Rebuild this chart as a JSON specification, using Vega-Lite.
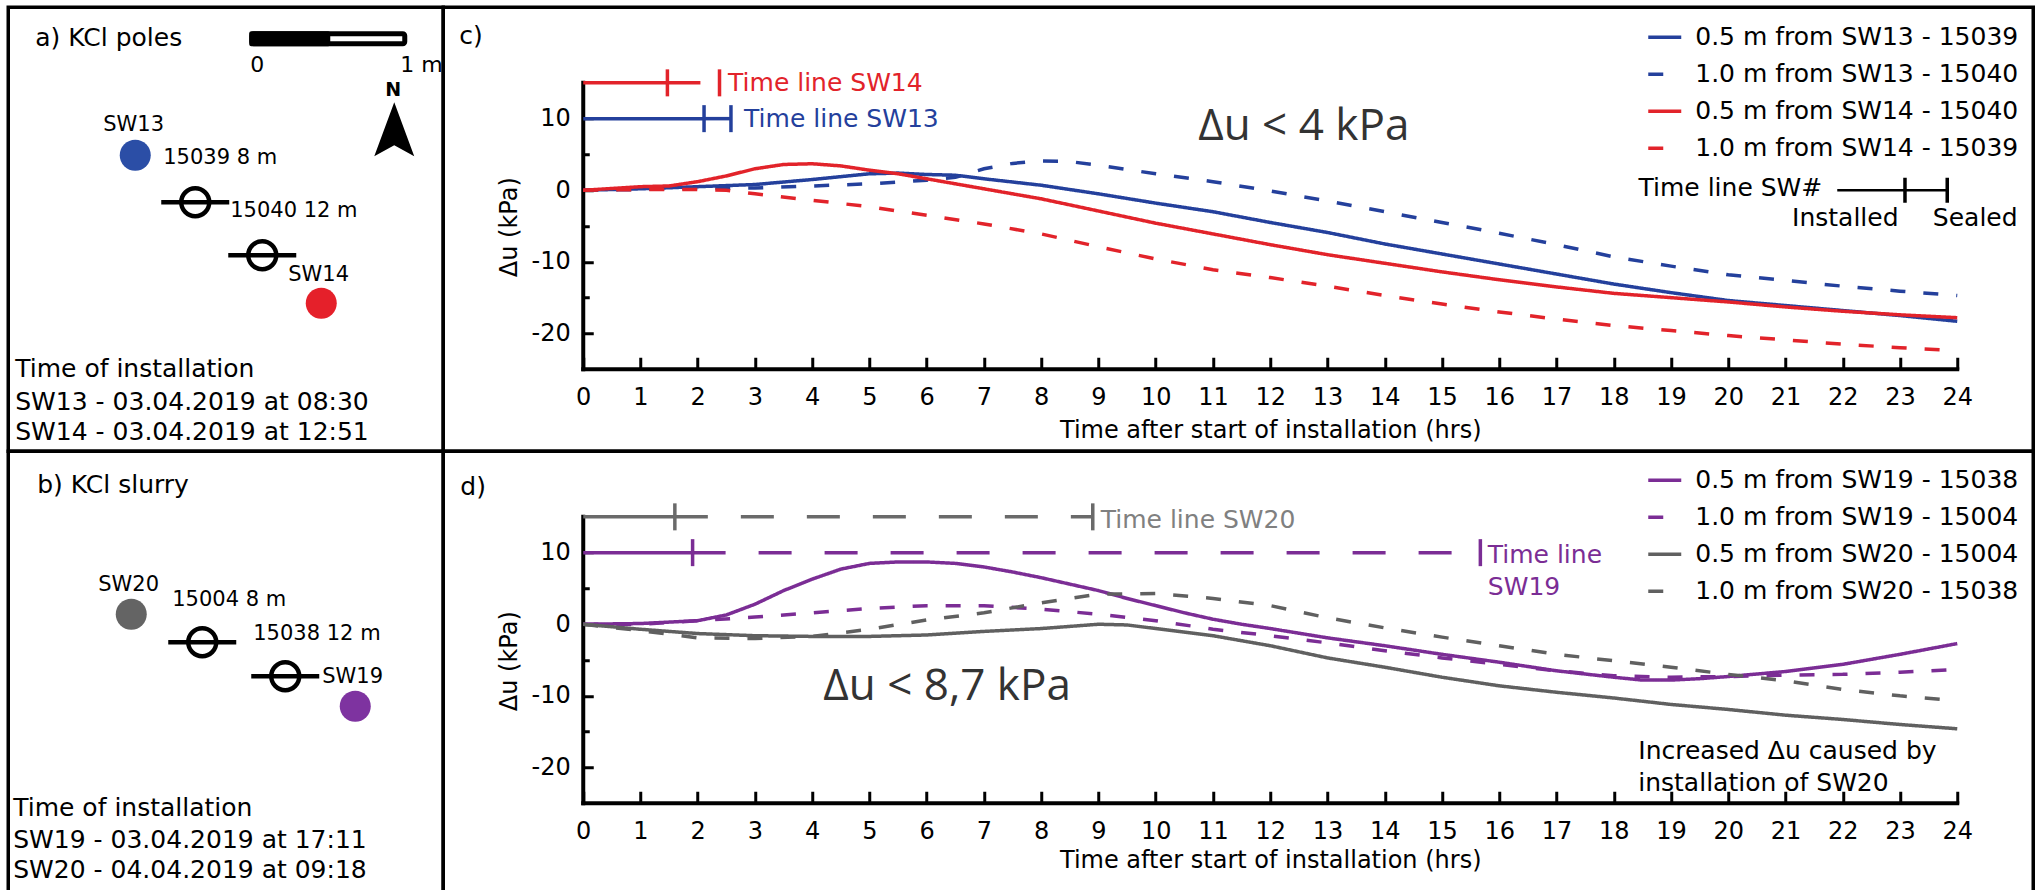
{
"$schema":"https://vega.github.io/schema/vega-lite/v6.json",
"background":"white",
"padding":{"left":6.25,"top":5.25,"right":0,"bottom":0},
"spacing":0,
"bounds":"flush",
"columns":2,
"resolve":{"scale":{"color":"independent","strokeDash":"independent","strokeWidth":"independent"},"legend":{"color":"independent","strokeDash":"independent","strokeWidth":"independent"}},
"config":{"view":{"stroke":"black","strokeWidth":3.5},"font":"DejaVu Sans"},
"datasets":{
"c_series":[
{"series":"0.5 m from SW13 - 15039","t":0,"du":0},{"series":"0.5 m from SW13 - 15039","t":1,"du":0.2},{"series":"0.5 m from SW13 - 15039","t":2,"du":0.5},{"series":"0.5 m from SW13 - 15039","t":3,"du":0.8},{"series":"0.5 m from SW13 - 15039","t":4,"du":1.5},{"series":"0.5 m from SW13 - 15039","t":5,"du":2.3},{"series":"0.5 m from SW13 - 15039","t":5.5,"du":2.4},{"series":"0.5 m from SW13 - 15039","t":6,"du":2.2},{"series":"0.5 m from SW13 - 15039","t":6.5,"du":2.1},{"series":"0.5 m from SW13 - 15039","t":7,"du":1.6},{"series":"0.5 m from SW13 - 15039","t":8,"du":0.7},{"series":"0.5 m from SW13 - 15039","t":9,"du":-0.5},{"series":"0.5 m from SW13 - 15039","t":10,"du":-1.8},{"series":"0.5 m from SW13 - 15039","t":11,"du":-3.0},{"series":"0.5 m from SW13 - 15039","t":12,"du":-4.5},{"series":"0.5 m from SW13 - 15039","t":13,"du":-5.9},{"series":"0.5 m from SW13 - 15039","t":14,"du":-7.5},{"series":"0.5 m from SW13 - 15039","t":15,"du":-8.9},{"series":"0.5 m from SW13 - 15039","t":16,"du":-10.3},{"series":"0.5 m from SW13 - 15039","t":17,"du":-11.7},{"series":"0.5 m from SW13 - 15039","t":18,"du":-13.1},{"series":"0.5 m from SW13 - 15039","t":19,"du":-14.3},{"series":"0.5 m from SW13 - 15039","t":20,"du":-15.4},{"series":"0.5 m from SW13 - 15039","t":21,"du":-16.1},{"series":"0.5 m from SW13 - 15039","t":22,"du":-16.8},{"series":"0.5 m from SW13 - 15039","t":23,"du":-17.5},{"series":"0.5 m from SW13 - 15039","t":24,"du":-18.3},
{"series":"1.0 m from SW13 - 15040","t":0,"du":0},{"series":"1.0 m from SW13 - 15040","t":1,"du":0.1},{"series":"1.0 m from SW13 - 15040","t":2,"du":0.3},{"series":"1.0 m from SW13 - 15040","t":3,"du":0.3},{"series":"1.0 m from SW13 - 15040","t":4,"du":0.6},{"series":"1.0 m from SW13 - 15040","t":5,"du":0.9},{"series":"1.0 m from SW13 - 15040","t":6,"du":1.4},{"series":"1.0 m from SW13 - 15040","t":6.5,"du":1.8},{"series":"1.0 m from SW13 - 15040","t":7,"du":3.0},{"series":"1.0 m from SW13 - 15040","t":7.5,"du":3.75},{"series":"1.0 m from SW13 - 15040","t":8,"du":4.1},{"series":"1.0 m from SW13 - 15040","t":8.5,"du":4.0},{"series":"1.0 m from SW13 - 15040","t":9,"du":3.5},{"series":"1.0 m from SW13 - 15040","t":10,"du":2.3},{"series":"1.0 m from SW13 - 15040","t":11,"du":1.2},{"series":"1.0 m from SW13 - 15040","t":12,"du":-0.1},{"series":"1.0 m from SW13 - 15040","t":13,"du":-1.5},{"series":"1.0 m from SW13 - 15040","t":14,"du":-3.0},{"series":"1.0 m from SW13 - 15040","t":15,"du":-4.5},{"series":"1.0 m from SW13 - 15040","t":16,"du":-6.0},{"series":"1.0 m from SW13 - 15040","t":17,"du":-7.6},{"series":"1.0 m from SW13 - 15040","t":18,"du":-9.3},{"series":"1.0 m from SW13 - 15040","t":19,"du":-10.6},{"series":"1.0 m from SW13 - 15040","t":20,"du":-11.8},{"series":"1.0 m from SW13 - 15040","t":21,"du":-12.6},{"series":"1.0 m from SW13 - 15040","t":22,"du":-13.4},{"series":"1.0 m from SW13 - 15040","t":23,"du":-14.1},{"series":"1.0 m from SW13 - 15040","t":24,"du":-14.7},
{"series":"0.5 m from SW14 - 15040","t":0,"du":0},{"series":"0.5 m from SW14 - 15040","t":1,"du":0.5},{"series":"0.5 m from SW14 - 15040","t":1.5,"du":0.6},{"series":"0.5 m from SW14 - 15040","t":2,"du":1.2},{"series":"0.5 m from SW14 - 15040","t":2.5,"du":2.0},{"series":"0.5 m from SW14 - 15040","t":3,"du":3.0},{"series":"0.5 m from SW14 - 15040","t":3.5,"du":3.6},{"series":"0.5 m from SW14 - 15040","t":4,"du":3.7},{"series":"0.5 m from SW14 - 15040","t":4.5,"du":3.4},{"series":"0.5 m from SW14 - 15040","t":5,"du":2.8},{"series":"0.5 m from SW14 - 15040","t":5.5,"du":2.3},{"series":"0.5 m from SW14 - 15040","t":6,"du":1.6},{"series":"0.5 m from SW14 - 15040","t":7,"du":0.2},{"series":"0.5 m from SW14 - 15040","t":8,"du":-1.2},{"series":"0.5 m from SW14 - 15040","t":9,"du":-2.9},{"series":"0.5 m from SW14 - 15040","t":10,"du":-4.6},{"series":"0.5 m from SW14 - 15040","t":11,"du":-6.1},{"series":"0.5 m from SW14 - 15040","t":12,"du":-7.6},{"series":"0.5 m from SW14 - 15040","t":13,"du":-9.0},{"series":"0.5 m from SW14 - 15040","t":14,"du":-10.2},{"series":"0.5 m from SW14 - 15040","t":15,"du":-11.4},{"series":"0.5 m from SW14 - 15040","t":16,"du":-12.5},{"series":"0.5 m from SW14 - 15040","t":17,"du":-13.5},{"series":"0.5 m from SW14 - 15040","t":18,"du":-14.4},{"series":"0.5 m from SW14 - 15040","t":19,"du":-15.0},{"series":"0.5 m from SW14 - 15040","t":20,"du":-15.6},{"series":"0.5 m from SW14 - 15040","t":21,"du":-16.3},{"series":"0.5 m from SW14 - 15040","t":22,"du":-16.9},{"series":"0.5 m from SW14 - 15040","t":23,"du":-17.4},{"series":"0.5 m from SW14 - 15040","t":24,"du":-17.8},
{"series":"1.0 m from SW14 - 15039","t":0,"du":0},{"series":"1.0 m from SW14 - 15039","t":1,"du":0.1},{"series":"1.0 m from SW14 - 15039","t":2,"du":0.1},{"series":"1.0 m from SW14 - 15039","t":2.5,"du":0},{"series":"1.0 m from SW14 - 15039","t":3,"du":-0.5},{"series":"1.0 m from SW14 - 15039","t":4,"du":-1.4},{"series":"1.0 m from SW14 - 15039","t":5,"du":-2.3},{"series":"1.0 m from SW14 - 15039","t":6,"du":-3.5},{"series":"1.0 m from SW14 - 15039","t":7,"du":-4.7},{"series":"1.0 m from SW14 - 15039","t":8,"du":-6.1},{"series":"1.0 m from SW14 - 15039","t":9,"du":-7.9},{"series":"1.0 m from SW14 - 15039","t":10,"du":-9.6},{"series":"1.0 m from SW14 - 15039","t":11,"du":-11.1},{"series":"1.0 m from SW14 - 15039","t":12,"du":-12.2},{"series":"1.0 m from SW14 - 15039","t":13,"du":-13.4},{"series":"1.0 m from SW14 - 15039","t":14,"du":-14.7},{"series":"1.0 m from SW14 - 15039","t":15,"du":-15.9},{"series":"1.0 m from SW14 - 15039","t":16,"du":-17.0},{"series":"1.0 m from SW14 - 15039","t":17,"du":-18.0},{"series":"1.0 m from SW14 - 15039","t":18,"du":-18.9},{"series":"1.0 m from SW14 - 15039","t":19,"du":-19.6},{"series":"1.0 m from SW14 - 15039","t":20,"du":-20.3},{"series":"1.0 m from SW14 - 15039","t":21,"du":-20.9},{"series":"1.0 m from SW14 - 15039","t":22,"du":-21.5},{"series":"1.0 m from SW14 - 15039","t":23,"du":-22.0},{"series":"1.0 m from SW14 - 15039","t":24,"du":-22.4}
],
"d_series":[
{"series":"0.5 m from SW19 - 15038","t":0,"du":0},{"series":"0.5 m from SW19 - 15038","t":1,"du":0.1},{"series":"0.5 m from SW19 - 15038","t":2,"du":0.5},{"series":"0.5 m from SW19 - 15038","t":2.5,"du":1.3},{"series":"0.5 m from SW19 - 15038","t":3,"du":2.8},{"series":"0.5 m from SW19 - 15038","t":3.5,"du":4.7},{"series":"0.5 m from SW19 - 15038","t":4,"du":6.3},{"series":"0.5 m from SW19 - 15038","t":4.5,"du":7.7},{"series":"0.5 m from SW19 - 15038","t":5,"du":8.5},{"series":"0.5 m from SW19 - 15038","t":5.5,"du":8.7},{"series":"0.5 m from SW19 - 15038","t":6,"du":8.7},{"series":"0.5 m from SW19 - 15038","t":6.5,"du":8.5},{"series":"0.5 m from SW19 - 15038","t":7,"du":8.0},{"series":"0.5 m from SW19 - 15038","t":7.5,"du":7.3},{"series":"0.5 m from SW19 - 15038","t":8,"du":6.5},{"series":"0.5 m from SW19 - 15038","t":8.5,"du":5.6},{"series":"0.5 m from SW19 - 15038","t":9,"du":4.7},{"series":"0.5 m from SW19 - 15038","t":9.5,"du":3.6},{"series":"0.5 m from SW19 - 15038","t":10,"du":2.6},{"series":"0.5 m from SW19 - 15038","t":10.5,"du":1.6},{"series":"0.5 m from SW19 - 15038","t":11,"du":0.7},{"series":"0.5 m from SW19 - 15038","t":11.5,"du":0},{"series":"0.5 m from SW19 - 15038","t":12,"du":-0.6},{"series":"0.5 m from SW19 - 15038","t":13,"du":-1.9},{"series":"0.5 m from SW19 - 15038","t":14,"du":-3.0},{"series":"0.5 m from SW19 - 15038","t":15,"du":-4.2},{"series":"0.5 m from SW19 - 15038","t":16,"du":-5.3},{"series":"0.5 m from SW19 - 15038","t":17,"du":-6.5},{"series":"0.5 m from SW19 - 15038","t":18,"du":-7.4},{"series":"0.5 m from SW19 - 15038","t":18.5,"du":-7.8},{"series":"0.5 m from SW19 - 15038","t":19,"du":-7.8},{"series":"0.5 m from SW19 - 15038","t":19.5,"du":-7.6},{"series":"0.5 m from SW19 - 15038","t":20,"du":-7.3},{"series":"0.5 m from SW19 - 15038","t":21,"du":-6.6},{"series":"0.5 m from SW19 - 15038","t":22,"du":-5.6},{"series":"0.5 m from SW19 - 15038","t":23,"du":-4.2},{"series":"0.5 m from SW19 - 15038","t":24,"du":-2.7},
{"series":"1.0 m from SW19 - 15004","t":0,"du":0},{"series":"1.0 m from SW19 - 15004","t":1,"du":0},{"series":"1.0 m from SW19 - 15004","t":2,"du":0.5},{"series":"1.0 m from SW19 - 15004","t":3,"du":1.0},{"series":"1.0 m from SW19 - 15004","t":4,"du":1.6},{"series":"1.0 m from SW19 - 15004","t":5,"du":2.2},{"series":"1.0 m from SW19 - 15004","t":6,"du":2.6},{"series":"1.0 m from SW19 - 15004","t":7,"du":2.6},{"series":"1.0 m from SW19 - 15004","t":8,"du":2.1},{"series":"1.0 m from SW19 - 15004","t":9,"du":1.4},{"series":"1.0 m from SW19 - 15004","t":10,"du":0.5},{"series":"1.0 m from SW19 - 15004","t":11,"du":-0.7},{"series":"1.0 m from SW19 - 15004","t":12,"du":-1.6},{"series":"1.0 m from SW19 - 15004","t":13,"du":-2.6},{"series":"1.0 m from SW19 - 15004","t":14,"du":-3.7},{"series":"1.0 m from SW19 - 15004","t":15,"du":-4.7},{"series":"1.0 m from SW19 - 15004","t":16,"du":-5.6},{"series":"1.0 m from SW19 - 15004","t":17,"du":-6.5},{"series":"1.0 m from SW19 - 15004","t":18,"du":-7.2},{"series":"1.0 m from SW19 - 15004","t":19,"du":-7.4},{"series":"1.0 m from SW19 - 15004","t":20,"du":-7.3},{"series":"1.0 m from SW19 - 15004","t":21,"du":-7.1},{"series":"1.0 m from SW19 - 15004","t":22,"du":-7.0},{"series":"1.0 m from SW19 - 15004","t":23,"du":-6.7},{"series":"1.0 m from SW19 - 15004","t":24,"du":-6.3},
{"series":"0.5 m from SW20 - 15004","t":0,"du":0},{"series":"0.5 m from SW20 - 15004","t":1,"du":-0.7},{"series":"0.5 m from SW20 - 15004","t":2,"du":-1.3},{"series":"0.5 m from SW20 - 15004","t":3,"du":-1.6},{"series":"0.5 m from SW20 - 15004","t":4,"du":-1.7},{"series":"0.5 m from SW20 - 15004","t":5,"du":-1.7},{"series":"0.5 m from SW20 - 15004","t":6,"du":-1.5},{"series":"0.5 m from SW20 - 15004","t":7,"du":-1.0},{"series":"0.5 m from SW20 - 15004","t":8,"du":-0.6},{"series":"0.5 m from SW20 - 15004","t":9,"du":0},{"series":"0.5 m from SW20 - 15004","t":9.5,"du":-0.1},{"series":"0.5 m from SW20 - 15004","t":10,"du":-0.6},{"series":"0.5 m from SW20 - 15004","t":11,"du":-1.6},{"series":"0.5 m from SW20 - 15004","t":12,"du":-3.0},{"series":"0.5 m from SW20 - 15004","t":13,"du":-4.7},{"series":"0.5 m from SW20 - 15004","t":14,"du":-6.0},{"series":"0.5 m from SW20 - 15004","t":15,"du":-7.4},{"series":"0.5 m from SW20 - 15004","t":16,"du":-8.6},{"series":"0.5 m from SW20 - 15004","t":17,"du":-9.5},{"series":"0.5 m from SW20 - 15004","t":18,"du":-10.3},{"series":"0.5 m from SW20 - 15004","t":19,"du":-11.2},{"series":"0.5 m from SW20 - 15004","t":20,"du":-11.9},{"series":"0.5 m from SW20 - 15004","t":21,"du":-12.7},{"series":"0.5 m from SW20 - 15004","t":22,"du":-13.3},{"series":"0.5 m from SW20 - 15004","t":23,"du":-14.0},{"series":"0.5 m from SW20 - 15004","t":24,"du":-14.6},
{"series":"1.0 m from SW20 - 15038","t":0,"du":0},{"series":"1.0 m from SW20 - 15038","t":1,"du":-0.9},{"series":"1.0 m from SW20 - 15038","t":2,"du":-1.9},{"series":"1.0 m from SW20 - 15038","t":3,"du":-2.0},{"series":"1.0 m from SW20 - 15038","t":4,"du":-1.7},{"series":"1.0 m from SW20 - 15038","t":5,"du":-0.7},{"series":"1.0 m from SW20 - 15038","t":6,"du":0.6},{"series":"1.0 m from SW20 - 15038","t":7,"du":1.6},{"series":"1.0 m from SW20 - 15038","t":8,"du":3.0},{"series":"1.0 m from SW20 - 15038","t":9,"du":4.2},{"series":"1.0 m from SW20 - 15038","t":10,"du":4.3},{"series":"1.0 m from SW20 - 15038","t":11,"du":3.6},{"series":"1.0 m from SW20 - 15038","t":12,"du":2.6},{"series":"1.0 m from SW20 - 15038","t":13,"du":0.9},{"series":"1.0 m from SW20 - 15038","t":14,"du":-0.5},{"series":"1.0 m from SW20 - 15038","t":15,"du":-1.8},{"series":"1.0 m from SW20 - 15038","t":16,"du":-3.0},{"series":"1.0 m from SW20 - 15038","t":17,"du":-4.2},{"series":"1.0 m from SW20 - 15038","t":18,"du":-5.1},{"series":"1.0 m from SW20 - 15038","t":19,"du":-6.0},{"series":"1.0 m from SW20 - 15038","t":20,"du":-7.0},{"series":"1.0 m from SW20 - 15038","t":21,"du":-7.9},{"series":"1.0 m from SW20 - 15038","t":22,"du":-9.1},{"series":"1.0 m from SW20 - 15038","t":23,"du":-10.0},{"series":"1.0 m from SW20 - 15038","t":24,"du":-10.7}
],
"c_timeline":[{"sw":"SW14","start":0,"installed":1.47,"sealed":2.38,"level":15},{"sw":"SW13","start":0,"installed":2.11,"sealed":2.58,"level":10}],
"d_timeline":[{"sw":"SW20","start":0,"installed":1.6,"sealed":8.9,"level":15},{"sw":"SW19","start":0,"installed":1.91,"sealed":15.67,"level":10}],
"c_tl_labels":[{"sw":"SW14","text":"Time line SW14","t":2.53,"du":15},{"sw":"SW13","text":"Time line SW13","t":2.81,"du":10}],
"d_tl_labels":[{"sw":"SW20","text":"Time line SW20","t":9.04,"du":14.5},{"sw":"SW19","text":"Time line","t":15.8,"du":9.64},{"sw":"SW19","text":"SW19","t":15.8,"du":5.17}],
"c_tl_legend":[{"start":21.904,"installed":23.087,"sealed":23.825,"level":0}],
"c_notes":[{"text":"c)","t":-2.166,"du":20.39,"kind":"panel"},{"text":"Δu < 4 kPa","t":10.742,"du":6.98,"kind":"big"},{"text":"Time line SW#","t":21.642,"du":0.3,"kind":"right"},{"text":"Installed","t":22.044,"du":-3.9,"kind":"center"},{"text":"Sealed","t":24.314,"du":-3.9,"kind":"center"}],
"d_notes":[{"text":"d)","t":-2.148,"du":18.02,"kind":"panel"},{"text":"Δu < 8,7 kPa","t":4.192,"du":-10.61,"kind":"big"},{"text":"Increased Δu caused by","t":18.428,"du":-18.85,"kind":"panel"},{"text":"installation of SW20","t":18.428,"du":-23.32,"kind":"panel"}],
"a_points":[{"name":"SW13","x":-0.7215,"y":-0.9367},{"name":"SW14","x":0.4557,"y":-1.8734}],
"a_piezo":[{"id":"15039","x":-0.3418,"y":-1.2342},{"id":"15040","x":0.0823,"y":-1.5696}],
"a_labels":[{"text":"a) KCl poles","x":-1.3544,"y":-0.195,"kind":"large"},{"text":"SW13","x":-0.924,"y":-0.7468,"kind":"small"},{"text":"15039 8 m","x":-0.5443,"y":-0.9557,"kind":"small"},{"text":"15040 12 m","x":-0.1203,"y":-1.2911,"kind":"small"},{"text":"SW14","x":0.2468,"y":-1.6962,"kind":"small"},{"text":"Time of installation","x":-1.481,"y":-2.2911,"kind":"large"},{"text":"SW13 - 03.04.2019 at 08:30","x":-1.481,"y":-2.5,"kind":"large"},{"text":"SW14 - 03.04.2019 at 12:51","x":-1.481,"y":-2.6899,"kind":"large"},{"text":"0","x":0.0506,"y":-0.3671,"kind":"scale_c"},{"text":"1 m","x":0.9557,"y":-0.3671,"kind":"scale_l"},{"text":"N","x":0.9114,"y":-0.5253,"kind":"north"}],
"b_points":[{"name":"SW20","x":-0.7468,"y":-1.0316},{"name":"SW19","x":0.6709,"y":-1.6139}],
"b_piezo":[{"id":"15004","x":-0.2975,"y":-1.2089},{"id":"15038","x":0.2278,"y":-1.4241}],
"b_labels":[{"text":"b) KCl slurry","x":-1.3418,"y":-0.2152,"kind":"large"},{"text":"SW20","x":-0.9557,"y":-0.8481,"kind":"small"},{"text":"15004 8 m","x":-0.4873,"y":-0.943,"kind":"small"},{"text":"15038 12 m","x":0.0253,"y":-1.1582,"kind":"small"},{"text":"SW19","x":0.462,"y":-1.4304,"kind":"small"},{"text":"Time of installation","x":-1.4937,"y":-2.2595,"kind":"large"},{"text":"SW19 - 03.04.2019 at 17:11","x":-1.4937,"y":-2.462,"kind":"large"},{"text":"SW20 - 04.04.2019 at 09:18","x":-1.4937,"y":-2.6519,"kind":"large"}]
},
"concat":[
{"width":435,"height":444,"layer":[
{"data":{"values":[{"x0":0.0158,"x1":0.9842,"y0":-0.1677,"y1":-0.231}]},"mark":{"type":"rect","fill":"white","stroke":"black","strokeWidth":5,"cornerRadius":2},"encoding":{"x":{"field":"x0","type":"quantitative","scale":{"domain":[-1.5253,1.2278],"nice":false,"zero":false},"axis":null},"x2":{"field":"x1"},"y":{"field":"y0","type":"quantitative","scale":{"domain":[-2.8101,0],"nice":false,"zero":false},"axis":null},"y2":{"field":"y1"}}},
{"data":{"values":[{"x0":0,"x1":0.5127,"y0":-0.1519,"y1":-0.2468}]},"mark":{"type":"rect","fill":"black","cornerRadius":2},"encoding":{"x":{"field":"x0","type":"quantitative","axis":null},"x2":{"field":"x1"},"y":{"field":"y0","type":"quantitative","axis":null},"y2":{"field":"y1"}}},
{"data":{"name":"a_piezo"},"mark":{"type":"point","shape":"M-1,0L1,0M-0.412,0A0.412,0.412,0,1,1,0.412,0A0.412,0.412,0,1,1,-0.412,0Z","size":4624,"filled":false,"stroke":"black","strokeWidth":4.5,"opacity":1},"encoding":{"x":{"field":"x","type":"quantitative","axis":null},"y":{"field":"y","type":"quantitative","axis":null}}},
{"data":{"name":"a_points"},"mark":{"type":"point","shape":"circle","size":962,"filled":true,"opacity":1},"encoding":{"x":{"field":"x","type":"quantitative","axis":null},"y":{"field":"y","type":"quantitative","axis":null},"color":{"field":"name","type":"nominal","scale":{"domain":["SW13","SW14"],"range":["#2b4ea6","#e5202a"]},"legend":null}}},
{"data":{"values":[{"x":0.9177,"y":-0.7722}]},"mark":{"type":"point","shape":"M0,-1L0.74,1L0,0.59L-0.74,1Z","size":2916,"filled":true,"color":"black","opacity":1},"encoding":{"x":{"field":"x","type":"quantitative","axis":null},"y":{"field":"y","type":"quantitative","axis":null}}},
{"data":{"name":"a_labels"},"transform":[{"filter":"datum.kind === 'large'"}],"mark":{"type":"text","font":"DejaVu Sans","fontSize":25,"align":"left","baseline":"middle","color":"black"},"encoding":{"x":{"field":"x","type":"quantitative","axis":null},"y":{"field":"y","type":"quantitative","axis":null},"text":{"field":"text"}}},
{"data":{"name":"a_labels"},"transform":[{"filter":"datum.kind === 'small'"}],"mark":{"type":"text","font":"DejaVu Sans","fontSize":21,"align":"left","baseline":"middle","color":"black"},"encoding":{"x":{"field":"x","type":"quantitative","axis":null},"y":{"field":"y","type":"quantitative","axis":null},"text":{"field":"text"}}},
{"data":{"name":"a_labels"},"transform":[{"filter":"datum.kind === 'scale_c'"}],"mark":{"type":"text","font":"DejaVu Sans","fontSize":22,"align":"center","baseline":"middle","color":"black"},"encoding":{"x":{"field":"x","type":"quantitative","axis":null},"y":{"field":"y","type":"quantitative","axis":null},"text":{"field":"text"}}},
{"data":{"name":"a_labels"},"transform":[{"filter":"datum.kind === 'scale_l'"}],"mark":{"type":"text","font":"DejaVu Sans","fontSize":22,"align":"left","baseline":"middle","color":"black"},"encoding":{"x":{"field":"x","type":"quantitative","axis":null},"y":{"field":"y","type":"quantitative","axis":null},"text":{"field":"text"}}},
{"data":{"name":"a_labels"},"transform":[{"filter":"datum.kind === 'north'"}],"mark":{"type":"text","font":"DejaVu Sans","fontSize":19,"fontWeight":"bold","align":"center","baseline":"middle","color":"black"},"encoding":{"x":{"field":"x","type":"quantitative","axis":null},"y":{"field":"y","type":"quantitative","axis":null},"text":{"field":"text"}}}
]},
{"width":1590,"height":444,"layer":[
{"data":{"values":[{}]},"mark":{"type":"rule","color":"black","strokeWidth":4,"strokeCap":"square"},"encoding":{"x":{"datum":0,"type":"quantitative"},"x2":{"datum":24},"y":{"datum":-25,"type":"quantitative"}}},
{"data":{"values":[{}]},"mark":{"type":"rule","color":"black","strokeWidth":4,"strokeCap":"square"},"encoding":{"x":{"datum":0,"type":"quantitative"},"y":{"datum":-25,"type":"quantitative"},"y2":{"datum":15}}},
{"data":{"name":"c_series"},"mark":{"type":"line","strokeWidth":3.5},"encoding":{
"x":{"field":"t","type":"quantitative","scale":{"domain":[-2.4454,25.3275],"nice":false,"zero":false},"axis":{"values":[0,0.5,1,1.5,2,2.5,3,3.5,4,4.5,5,5.5,6,6.5,7,7.5,8,8.5,9,9.5,10,10.5,11,11.5,12,12.5,13,13.5,14,14.5,15,15.5,16,16.5,17,17.5,18,18.5,19,19.5,20,20.5,21,21.5,22,22.5,23,23.5,24],"labelExpr":"datum.value % 1 === 0 ? '' + datum.value : ''","domain":false,"grid":false,"orient":"bottom","offset":-82,"tickSize":{"condition":{"test":"datum.value % 1 === 0","value":-12},"value":-6},"tickWidth":3,"tickColor":"black","labelFont":"DejaVu Sans","labelFontSize":24,"labelColor":"black","labelPadding":28.5,"labelBaseline":"top","labelFlush":false,"labelOverlap":false,"labelBound":false,"title":"Time after start of installation (hrs)","titleFont":"DejaVu Sans","titleFontSize":24,"titleFontWeight":"normal","titleColor":"black","titleX":827,"titleY":61,"titleBaseline":"middle","titleAlign":"center"}},
"y":{"field":"du","type":"quantitative","scale":{"domain":[-36.453,25.559],"nice":false,"zero":false},"axis":{"values":[-20,-15,-10,-5,0,5,10],"labelExpr":"datum.value % 10 === 0 ? (datum.value < 0 ? '-' + (-datum.value) : '' + datum.value) : ''","domain":false,"grid":false,"orient":"left","offset":-140,"tickSize":{"condition":{"test":"datum.value % 10 === 0","value":-10},"value":-6},"tickWidth":3,"tickColor":"black","labelFont":"DejaVu Sans","labelFontSize":24,"labelColor":"black","labelPadding":23,"labelFlush":false,"labelOverlap":false,"labelBound":false,"title":"Δu (kPa)","titleFont":"DejaVu Sans","titleFontSize":24,"titleFontWeight":"normal","titleColor":"black","titleX":-74,"titleY":219.5,"titleAngle":270,"titleBaseline":"middle","titleAlign":"center"}},
"color":{"field":"series","type":"nominal","scale":{"domain":["0.5 m from SW13 - 15039","1.0 m from SW13 - 15040","0.5 m from SW14 - 15040","1.0 m from SW14 - 15039","SW13","SW14"],"range":["#24409c","#24409c","#e2232a","#e2232a","#24409c","#e2232a"]},"legend":{"title":null,"orient":"none","legendX":1203,"legendY":15,"values":["0.5 m from SW13 - 15039","1.0 m from SW13 - 15040","0.5 m from SW14 - 15040","1.0 m from SW14 - 15039"],"symbolType":"stroke","symbolSize":1089,"symbolStrokeWidth":3.5,"labelFont":"DejaVu Sans","labelFontSize":25,"labelColor":"black","labelOffset":12,"rowPadding":7,"clipHeight":30,"padding":0,"labelLimit":0}},
"strokeDash":{"field":"series","type":"nominal","scale":{"domain":["0.5 m from SW13 - 15039","1.0 m from SW13 - 15040","0.5 m from SW14 - 15040","1.0 m from SW14 - 15039","SW13","SW14"],"range":[[1,0],[15,18],[1,0],[15,18],[1,0],[1,0]]},"legend":{"title":null,"orient":"none","legendX":1203,"legendY":15,"values":["0.5 m from SW13 - 15039","1.0 m from SW13 - 15040","0.5 m from SW14 - 15040","1.0 m from SW14 - 15039"],"symbolType":"stroke","symbolSize":1089,"symbolStrokeWidth":3.5,"labelFont":"DejaVu Sans","labelFontSize":25,"labelColor":"black","labelOffset":12,"rowPadding":7,"clipHeight":30,"padding":0,"labelLimit":0}}
}},
{"data":{"name":"c_timeline"},"mark":{"type":"rule","strokeWidth":3.5},"encoding":{"x":{"field":"start","type":"quantitative"},"x2":{"field":"installed"},"y":{"field":"level","type":"quantitative"},"color":{"field":"sw","type":"nominal"}}},
{"data":{"name":"c_timeline"},"mark":{"type":"rule","strokeWidth":3.5,"strokeDash":[33,33]},"encoding":{"x":{"field":"installed","type":"quantitative"},"x2":{"field":"sealed"},"y":{"field":"level","type":"quantitative"},"color":{"field":"sw","type":"nominal"}}},
{"data":{"name":"c_timeline"},"mark":{"type":"tick","orient":"vertical","size":27,"thickness":3.5,"opacity":1},"encoding":{"x":{"field":"installed","type":"quantitative"},"y":{"field":"level","type":"quantitative"},"color":{"field":"sw","type":"nominal"}}},
{"data":{"name":"c_timeline"},"mark":{"type":"tick","orient":"vertical","size":27,"thickness":3.5,"opacity":1},"encoding":{"x":{"field":"sealed","type":"quantitative"},"y":{"field":"level","type":"quantitative"},"color":{"field":"sw","type":"nominal"}}},
{"data":{"name":"c_tl_labels"},"mark":{"type":"text","font":"DejaVu Sans","fontSize":25,"align":"left","baseline":"middle"},"encoding":{"x":{"field":"t","type":"quantitative"},"y":{"field":"du","type":"quantitative"},"text":{"field":"text"},"color":{"field":"sw","type":"nominal"}}},
{"data":{"name":"c_tl_legend"},"mark":{"type":"rule","strokeWidth":2.5,"color":"black"},"encoding":{"x":{"field":"start","type":"quantitative"},"x2":{"field":"sealed"},"y":{"field":"level","type":"quantitative"}}},
{"data":{"name":"c_tl_legend"},"mark":{"type":"tick","orient":"vertical","size":25,"thickness":3.5,"opacity":1,"color":"black"},"encoding":{"x":{"field":"installed","type":"quantitative"},"y":{"field":"level","type":"quantitative"}}},
{"data":{"name":"c_tl_legend"},"mark":{"type":"tick","orient":"vertical","size":25,"thickness":3.5,"opacity":1,"color":"black"},"encoding":{"x":{"field":"sealed","type":"quantitative"},"y":{"field":"level","type":"quantitative"}}},
{"data":{"name":"c_notes"},"transform":[{"filter":"datum.kind === 'panel'"}],"mark":{"type":"text","font":"DejaVu Sans","fontSize":25,"align":"left","baseline":"alphabetic","color":"black"},"encoding":{"x":{"field":"t","type":"quantitative"},"y":{"field":"du","type":"quantitative"},"text":{"field":"text"}}},
{"data":{"name":"c_notes"},"transform":[{"filter":"datum.kind === 'big'"}],"mark":{"type":"text","font":"Open Sans","fontSize":44,"align":"left","baseline":"alphabetic","color":"#333333"},"encoding":{"x":{"field":"t","type":"quantitative"},"y":{"field":"du","type":"quantitative"},"text":{"field":"text"}}},
{"data":{"name":"c_notes"},"transform":[{"filter":"datum.kind === 'right'"}],"mark":{"type":"text","font":"DejaVu Sans","fontSize":25,"align":"right","baseline":"middle","color":"black"},"encoding":{"x":{"field":"t","type":"quantitative"},"y":{"field":"du","type":"quantitative"},"text":{"field":"text"}}},
{"data":{"name":"c_notes"},"transform":[{"filter":"datum.kind === 'center'"}],"mark":{"type":"text","font":"DejaVu Sans","fontSize":25,"align":"center","baseline":"middle","color":"black"},"encoding":{"x":{"field":"t","type":"quantitative"},"y":{"field":"du","type":"quantitative"},"text":{"field":"text"}}}
]},
{"width":435,"height":444,"layer":[
{"data":{"name":"b_piezo"},"mark":{"type":"point","shape":"M-1,0L1,0M-0.412,0A0.412,0.412,0,1,1,0.412,0A0.412,0.412,0,1,1,-0.412,0Z","size":4624,"filled":false,"stroke":"black","strokeWidth":4.5,"opacity":1},"encoding":{"x":{"field":"x","type":"quantitative","scale":{"domain":[-1.5253,1.2278],"nice":false,"zero":false},"axis":null},"y":{"field":"y","type":"quantitative","scale":{"domain":[-2.8101,0],"nice":false,"zero":false},"axis":null}}},
{"data":{"name":"b_points"},"mark":{"type":"point","shape":"circle","size":962,"filled":true,"opacity":1},"encoding":{"x":{"field":"x","type":"quantitative","axis":null},"y":{"field":"y","type":"quantitative","axis":null},"color":{"field":"name","type":"nominal","scale":{"domain":["SW20","SW19"],"range":["#646464","#7e33a0"]},"legend":null}}},
{"data":{"name":"b_labels"},"transform":[{"filter":"datum.kind === 'large'"}],"mark":{"type":"text","font":"DejaVu Sans","fontSize":25,"align":"left","baseline":"middle","color":"black"},"encoding":{"x":{"field":"x","type":"quantitative","axis":null},"y":{"field":"y","type":"quantitative","axis":null},"text":{"field":"text"}}},
{"data":{"name":"b_labels"},"transform":[{"filter":"datum.kind === 'small'"}],"mark":{"type":"text","font":"DejaVu Sans","fontSize":21,"align":"left","baseline":"middle","color":"black"},"encoding":{"x":{"field":"x","type":"quantitative","axis":null},"y":{"field":"y","type":"quantitative","axis":null},"text":{"field":"text"}}}
]},
{"width":1590,"height":444,"layer":[
{"data":{"values":[{}]},"mark":{"type":"rule","color":"black","strokeWidth":4,"strokeCap":"square"},"encoding":{"x":{"datum":0,"type":"quantitative"},"x2":{"datum":24},"y":{"datum":-25,"type":"quantitative"}}},
{"data":{"values":[{}]},"mark":{"type":"rule","color":"black","strokeWidth":4,"strokeCap":"square"},"encoding":{"x":{"datum":0,"type":"quantitative"},"y":{"datum":-25,"type":"quantitative"},"y2":{"datum":15}}},
{"data":{"name":"d_series"},"mark":{"type":"line"},"encoding":{
"x":{"field":"t","type":"quantitative","scale":{"domain":[-2.4454,25.3275],"nice":false,"zero":false},"axis":{"values":[0,0.5,1,1.5,2,2.5,3,3.5,4,4.5,5,5.5,6,6.5,7,7.5,8,8.5,9,9.5,10,10.5,11,11.5,12,12.5,13,13.5,14,14.5,15,15.5,16,16.5,17,17.5,18,18.5,19,19.5,20,20.5,21,21.5,22,22.5,23,23.5,24],"labelExpr":"datum.value % 1 === 0 ? '' + datum.value : ''","domain":false,"grid":false,"orient":"bottom","offset":-92,"tickSize":{"condition":{"test":"datum.value % 1 === 0","value":-12},"value":-6},"tickWidth":3,"tickColor":"black","labelFont":"DejaVu Sans","labelFontSize":24,"labelColor":"black","labelPadding":28.5,"labelBaseline":"top","labelFlush":false,"labelOverlap":false,"labelBound":false,"title":"Time after start of installation (hrs)","titleFont":"DejaVu Sans","titleFontSize":24,"titleFontWeight":"normal","titleColor":"black","titleX":827,"titleY":57,"titleBaseline":"middle","titleAlign":"center"}},
"y":{"field":"du","type":"quantitative","scale":{"domain":[-37.849,24.162],"nice":false,"zero":false},"axis":{"values":[-20,-15,-10,-5,0,5,10],"labelExpr":"datum.value % 10 === 0 ? (datum.value < 0 ? '-' + (-datum.value) : '' + datum.value) : ''","domain":false,"grid":false,"orient":"left","offset":-140,"tickSize":{"condition":{"test":"datum.value % 10 === 0","value":-10},"value":-6},"tickWidth":3,"tickColor":"black","labelFont":"DejaVu Sans","labelFontSize":24,"labelColor":"black","labelPadding":23,"labelFlush":false,"labelOverlap":false,"labelBound":false,"title":"Δu (kPa)","titleFont":"DejaVu Sans","titleFontSize":24,"titleFontWeight":"normal","titleColor":"black","titleX":-74,"titleY":209.5,"titleAngle":270,"titleBaseline":"middle","titleAlign":"center"}},
"color":{"field":"series","type":"nominal","scale":{"domain":["0.5 m from SW19 - 15038","1.0 m from SW19 - 15004","0.5 m from SW20 - 15004","1.0 m from SW20 - 15038","SW19","SW20"],"range":["#7b2d95","#7b2d95","#606060","#606060","#7b2d95","#6a6a6a"]},"legend":{"title":null,"orient":"none","legendX":1203,"legendY":14,"values":["0.5 m from SW19 - 15038","1.0 m from SW19 - 15004","0.5 m from SW20 - 15004","1.0 m from SW20 - 15038"],"symbolType":"stroke","symbolSize":1089,"symbolStrokeWidth":3.5,"labelFont":"DejaVu Sans","labelFontSize":25,"labelColor":"black","labelOffset":12,"rowPadding":7,"clipHeight":30,"padding":0,"labelLimit":0}},
"strokeDash":{"field":"series","type":"nominal","scale":{"domain":["0.5 m from SW19 - 15038","1.0 m from SW19 - 15004","0.5 m from SW20 - 15004","1.0 m from SW20 - 15038","SW19","SW20"],"range":[[1,0],[15,18],[1,0],[15,18],[1,0],[1,0]]},"legend":{"title":null,"orient":"none","legendX":1203,"legendY":14,"values":["0.5 m from SW19 - 15038","1.0 m from SW19 - 15004","0.5 m from SW20 - 15004","1.0 m from SW20 - 15038"],"symbolType":"stroke","symbolSize":1089,"symbolStrokeWidth":3.5,"labelFont":"DejaVu Sans","labelFontSize":25,"labelColor":"black","labelOffset":12,"rowPadding":7,"clipHeight":30,"padding":0,"labelLimit":0}},
"strokeWidth":{"field":"series","type":"ordinal","scale":{"domain":["0.5 m from SW19 - 15038","1.0 m from SW19 - 15004","0.5 m from SW20 - 15004","1.0 m from SW20 - 15038"],"range":[3.5,3.5,2.5,3]},"legend":null}
}},
{"data":{"name":"d_timeline"},"mark":{"type":"rule","strokeWidth":3.5},"encoding":{"x":{"field":"start","type":"quantitative"},"x2":{"field":"installed"},"y":{"field":"level","type":"quantitative"},"color":{"field":"sw","type":"nominal"}}},
{"data":{"name":"d_timeline"},"mark":{"type":"rule","strokeWidth":3.5,"strokeDash":[33,33]},"encoding":{"x":{"field":"installed","type":"quantitative"},"x2":{"field":"sealed"},"y":{"field":"level","type":"quantitative"},"color":{"field":"sw","type":"nominal"}}},
{"data":{"name":"d_timeline"},"mark":{"type":"tick","orient":"vertical","size":27,"thickness":3.5,"opacity":1},"encoding":{"x":{"field":"installed","type":"quantitative"},"y":{"field":"level","type":"quantitative"},"color":{"field":"sw","type":"nominal"}}},
{"data":{"name":"d_timeline"},"mark":{"type":"tick","orient":"vertical","size":27,"thickness":3.5,"opacity":1},"encoding":{"x":{"field":"sealed","type":"quantitative"},"y":{"field":"level","type":"quantitative"},"color":{"field":"sw","type":"nominal"}}},
{"data":{"name":"d_tl_labels"},"transform":[{"filter":"datum.sw === 'SW20'"}],"mark":{"type":"text","font":"DejaVu Sans","fontSize":25,"align":"left","baseline":"middle","color":"#808080"},"encoding":{"x":{"field":"t","type":"quantitative"},"y":{"field":"du","type":"quantitative"},"text":{"field":"text"}}},
{"data":{"name":"d_tl_labels"},"transform":[{"filter":"datum.sw === 'SW19'"}],"mark":{"type":"text","font":"DejaVu Sans","fontSize":25,"align":"left","baseline":"middle","color":"#7b2d95"},"encoding":{"x":{"field":"t","type":"quantitative"},"y":{"field":"du","type":"quantitative"},"text":{"field":"text"}}},
{"data":{"name":"d_notes"},"transform":[{"filter":"datum.kind === 'panel'"}],"mark":{"type":"text","font":"DejaVu Sans","fontSize":25,"align":"left","baseline":"alphabetic","color":"black"},"encoding":{"x":{"field":"t","type":"quantitative"},"y":{"field":"du","type":"quantitative"},"text":{"field":"text"}}},
{"data":{"name":"d_notes"},"transform":[{"filter":"datum.kind === 'big'"}],"mark":{"type":"text","font":"Open Sans","fontSize":44,"align":"left","baseline":"alphabetic","color":"#333333"},"encoding":{"x":{"field":"t","type":"quantitative"},"y":{"field":"du","type":"quantitative"},"text":{"field":"text"}}}
]}
]
}
